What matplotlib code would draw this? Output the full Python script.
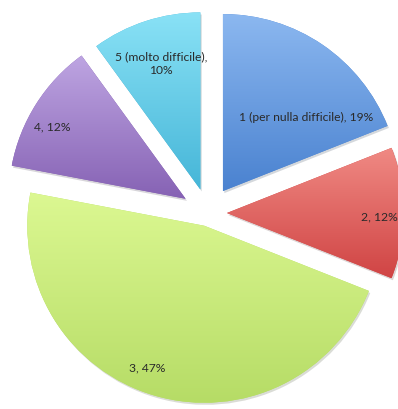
import numpy as np
import matplotlib
matplotlib.use("Agg")
import matplotlib.pyplot as plt
import matplotlib.patheffects as pe

# data
labels = ["1 (per nulla difficile)", "2", "3", "4", "5 (molto difficile)"]
values = [19, 12, 47, 12, 10]

# gradient colours per slice (top, bottom)
tops = ["#8cb8f0", "#f08a84", "#dcf892", "#bea5e2", "#8ae2f6"]
bottoms = ["#4a82d0", "#d04444", "#b6dc66", "#8662b4", "#46b6d8"]
explode = [0.15, 0.107, 0.075, 0.15, 0.14]

# label layout (axes fraction)
label_pos = [(0.769, 0.713), (0.953, 0.469), (0.371, 0.100), (0.132, 0.690), (0.404, 0.845)]
label_text = ["1 (per nulla difficile), 19%", "2, 12%", "3, 47%", "4, 12%",
              "5 (molto difficile),\n10%"]

fig = plt.figure(figsize=(3.98, 4.09), dpi=100)
ax = fig.add_axes([0, 0, 1, 1])

wedges, _ = ax.pie(values, startangle=90, counterclock=False,
                   explode=explode, colors=bottoms,
                   wedgeprops=dict(linewidth=0))

def hex2rgb(h):
    return np.array([int(h[i:i + 2], 16) for i in (1, 3, 5)]) / 255.0

for w, ct, cb in zip(wedges, tops, bottoms):
    w.set_path_effects([pe.SimplePatchShadow(offset=(1, -1.5), alpha=0.18), pe.Normal()])
    ext = w.get_path().get_extents()
    t = np.linspace(0, 1, 256)[:, None]
    grad = hex2rgb(ct)[None, :] * (1 - t) + hex2rgb(cb)[None, :] * t
    img = np.repeat(grad[:, None, :], 2, axis=1)
    im = ax.imshow(img, extent=(ext.x0, ext.x1, ext.y0, ext.y1), origin="upper",
                   aspect="auto", interpolation="bilinear", zorder=w.get_zorder() + 0.1)
    im.set_clip_path(w)

for (x, y), txt in zip(label_pos, label_text):
    ax.text(x, y, txt, transform=ax.transAxes, ha="center", va="center",
            fontsize=8.7, family="Lato", color="#2a2a2a", zorder=10,
            linespacing=1.25)

R = 177
ax.set_xlim(-208 / R, (398 - 208) / R)
ax.set_ylim(-(409 - 213) / R, 213 / R)
ax.set_aspect("auto")
ax.axis("off")

fig.savefig("out.png", dpi=100)
